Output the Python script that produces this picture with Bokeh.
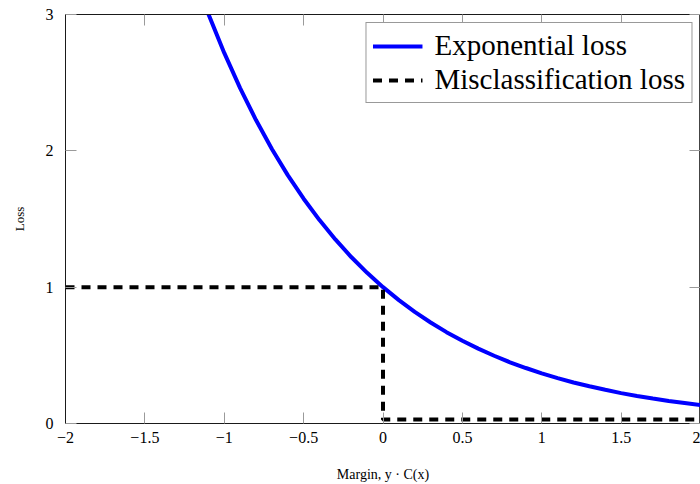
from bokeh.plotting import figure
from bokeh.models import (Range1d, LinearAxis, FixedTicker, CustomJSTickFormatter,
                          Legend, LegendItem)
from bokeh.embed import file_html
from bokeh.resources import INLINE

# ---- data ----
margin_exp = [-1.1, -1.0, -0.9, -0.8, -0.7, -0.6, -0.5, -0.4, -0.3, -0.2, -0.1,
              0.0, 0.1, 0.2, 0.3, 0.4, 0.5, 0.6, 0.7, 0.8, 0.9, 1.0,
              1.1, 1.2, 1.3, 1.4, 1.5, 1.6, 1.7, 1.8, 1.9, 2.0]
loss_exp = [3.004, 2.718, 2.460, 2.226, 2.014, 1.822, 1.649, 1.492, 1.350, 1.221, 1.105,
            1.000, 0.905, 0.819, 0.741, 0.670, 0.607, 0.549, 0.497, 0.449, 0.407, 0.368,
            0.333, 0.301, 0.273, 0.247, 0.223, 0.202, 0.183, 0.165, 0.150, 0.135]
margin_mis = [-2.0, 0.0, 0.0, 2.0]
loss_mis = [1.0, 1.0, 0.03, 0.03]

x_ticks = [-2, -1.5, -1, -0.5, 0, 0.5, 1, 1.5, 2]
y_ticks = [0, 1, 2, 3]

label_exp = "Exponential loss"
label_mis = "Misclassification loss"
x_label = "Margin, y \u00b7 C(x)"
y_label = "Loss"

SERIF = "Liberation Serif"
TICK_GRAY = "#9a9a9a"
AXIS_COLOR = "#1a1a1a"

p = figure(width=700, height=484, output_backend="svg", toolbar_location=None,
           x_range=Range1d(-2, 2), y_range=Range1d(0, 3),
           min_border_left=65, min_border_right=0, min_border_top=14, min_border_bottom=61,
           background_fill_color="white", border_fill_color="white")
p.outline_line_color = "#444444"
p.outline_line_width = 1
p.grid.visible = False

fmt = CustomJSTickFormatter(code="return (tick < 0 ? '\u2212' : '') + Math.abs(tick).toString();")

def style_axis(ax, ticks, show_labels=True):
    ax.ticker = FixedTicker(ticks=ticks)
    ax.formatter = fmt
    ax.major_tick_in = 11
    ax.major_tick_out = 0
    ax.minor_tick_line_color = None
    ax.major_tick_line_color = TICK_GRAY
    ax.major_tick_line_width = 1
    ax.axis_line_color = AXIS_COLOR
    ax.axis_line_width = 1
    ax.major_label_text_font = SERIF
    if show_labels:
        ax.major_label_text_font_size = "16px"
        ax.major_label_text_color = "black"
    else:
        ax.major_label_text_font_size = "0px"
        ax.major_label_text_color = None
        ax.major_label_standoff = 0

xa = p.xaxis[0]
ya = p.yaxis[0]
style_axis(xa, x_ticks)
style_axis(ya, y_ticks)
xa.major_label_standoff = 8
ya.major_label_standoff = 12
xa.axis_label = x_label
ya.axis_label = y_label
for ax, size, st in ((xa, "14px", 21), (ya, "13px", 16)):
    ax.axis_label_text_font = SERIF
    ax.axis_label_text_font_size = size
    ax.axis_label_text_font_style = "normal"
    ax.axis_label_text_color = "black"
    ax.axis_label_standoff = st

top = LinearAxis()
style_axis(top, x_ticks, show_labels=False)
p.add_layout(top, "above")
right = LinearAxis()
style_axis(right, y_ticks, show_labels=False)
p.add_layout(right, "right")

r_exp = p.line(margin_exp, loss_exp, line_color="#0000ff", line_width=4)
r_mis = p.line(margin_mis, loss_mis, line_color="black", line_width=4, line_dash="9 7")

legend = Legend(items=[LegendItem(label=label_exp, renderers=[r_exp]),
                       LegendItem(label=label_mis, renderers=[r_mis])],
                location="top_right", margin=8, padding=6, spacing=1,
                glyph_width=50, glyph_height=30, label_standoff=12,
                label_text_font=SERIF, label_text_font_size="29px",
                label_text_color="black", label_height=30,
                border_line_color="#333333", border_line_width=1,
                background_fill_color="white", background_fill_alpha=1.0)
p.add_layout(legend, "center")

open("out.html", "w").write(file_html(p, INLINE))
